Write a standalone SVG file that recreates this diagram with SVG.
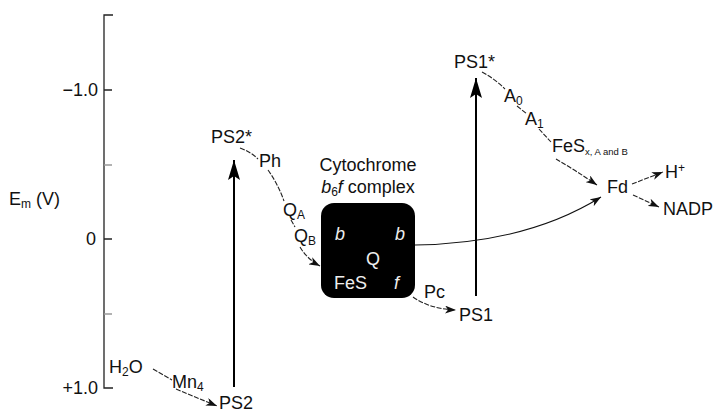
<svg xmlns="http://www.w3.org/2000/svg" width="714" height="412" viewBox="0 0 714 412">
<defs>
<style>
text{font-family:"Liberation Sans",Arial,sans-serif;font-size:18px;fill:#111}
.sub{font-size:12px}
.tiny{font-size:9.5px}
.w{fill:#eee}
.it{font-style:italic}
.ax{stroke:#222;stroke-width:1.3;fill:none}
.mt{stroke:#999;stroke-width:1.3;fill:none}
.c{stroke:#222;stroke-width:1.1;fill:none;stroke-dasharray:5 1.5}
.s{stroke:#111;stroke-width:1.1;fill:none}
.big{stroke:#000;stroke-width:2;fill:none}
</style>
<marker id="ah" markerUnits="userSpaceOnUse" markerWidth="11" markerHeight="8" refX="11" refY="4" orient="auto">
<path d="M0,0 L11,4 L0,8 L3,4 Z" fill="#111"/>
</marker>
<marker id="bh" markerUnits="userSpaceOnUse" markerWidth="22" markerHeight="12" refX="20" refY="6" orient="auto">
<path d="M0,0 L20,6 L0,12 L4,6 Z" fill="#000"/>
</marker>
</defs>

<g id="axis">
<path class="ax" d="M113,15 H104 V388 H113"/>
<path class="ax" d="M104,90 H112 M104,239 H112"/>
<path class="mt" d="M104,165 H112 M104,314 H112"/>
<text x="98" y="96" text-anchor="end">−1.0</text>
<text x="96" y="245" text-anchor="end">0</text>
<text x="98" y="394" text-anchor="end">+1.0</text>
<text x="9" y="205">E<tspan class="sub" dy="3">m</tspan><tspan dy="-3"> (V)</tspan></text>
</g>

<g id="connectors">
<path class="big" d="M234,387 V160" marker-end="url(#bh)"/>
<path class="big" d="M476,296 V78" marker-end="url(#bh)"/>
<path class="c" d="M153,369 L172,380"/>
<path class="c" d="M176,389 L217,406" marker-end="url(#ah)"/>
<path class="c" d="M240,148 Q251,152 258,159"/>
<path class="c" d="M268,170 Q278,184 284,201"/>
<path class="c" d="M291,220 L295,227"/>
<path class="c" d="M300,247 Q307,259 320,266" marker-end="url(#ah)"/>
<path class="s" d="M415,245 C480,244 545,232 601,197" marker-end="url(#ah)"/>
<path class="c" d="M413,297 Q430,309 456,310" marker-end="url(#ah)"/>
<path class="c" d="M482,72 Q495,79 505,89"/>
<path class="c" d="M517,106 L527,114"/>
<path class="c" d="M539,129 L551,142"/>
<path class="c" d="M556,159 Q575,170 597,185" marker-end="url(#ah)"/>
<path class="c" d="M632,184 L663,172" marker-end="url(#ah)"/>
<path class="c" d="M633,195 L659,207" marker-end="url(#ah)"/>
</g>

<g id="h2o"><text x="109" y="373">H<tspan class="sub" dy="3">2</tspan><tspan dy="-3">O</tspan></text></g>
<g id="mn4"><text x="172" y="388">Mn<tspan class="sub" dy="3">4</tspan></text></g>
<g id="ps2"><text x="219" y="409">PS2</text></g>
<g id="ps2star"><text x="211" y="143">PS2*</text></g>
<g id="ph"><text x="259" y="167">Ph</text></g>
<g id="qa"><text x="283" y="216">Q<tspan class="sub" dy="3">A</tspan></text></g>
<g id="qb"><text x="294" y="242">Q<tspan class="sub" dy="3">B</tspan></text></g>

<g id="cytb6f">
<text x="368" y="171" text-anchor="middle">Cytochrome</text>
<text x="368" y="193" text-anchor="middle"><tspan class="it">b</tspan><tspan class="sub" dy="3">6</tspan><tspan class="it" dy="-3">f</tspan> complex</text>
<rect x="321" y="203" width="94" height="95" rx="13" fill="#000"/>
<text class="w it" x="335" y="240">b</text>
<text class="w it" x="395" y="240">b</text>
<text class="w" x="366" y="265">Q</text>
<text class="w" x="334" y="289">FeS</text>
<text class="w it" x="394" y="289">f</text>
</g>

<g id="pc"><text x="424" y="298">Pc</text></g>
<g id="ps1"><text x="459" y="321">PS1</text></g>
<g id="ps1star"><text x="454" y="68">PS1*</text></g>
<g id="a0"><text x="504" y="102">A<tspan class="sub" dy="3">0</tspan></text></g>
<g id="a1"><text x="525" y="125">A<tspan class="sub" dy="3">1</tspan></text></g>
<g id="fes"><text x="552" y="152">FeS<tspan class="tiny" dy="3">x, A and B</tspan></text></g>
<g id="fd"><text x="607" y="193">Fd</text></g>
<g id="hplus"><text x="665" y="178">H<tspan class="sub" dy="-6">+</tspan></text></g>
<g id="nadp"><text x="663" y="215">NADP</text></g>
</svg>
